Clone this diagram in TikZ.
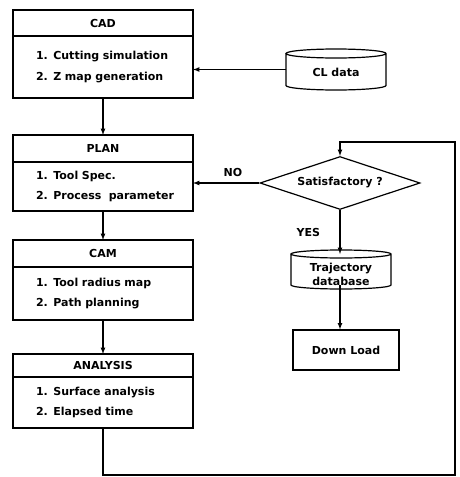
\documentclass[tikz,border=0pt]{standalone}
\usepackage{fontspec}
\setmainfont{DejaVu Sans}
\usepackage{tikz}
\usetikzlibrary{arrows}
\usetikzlibrary{positioning}
\usetikzlibrary{shapes.geometric}

\begin{document}
\begin{tikzpicture}[x=1pt,y=-1pt,line width=1.2pt,>=latex,
  every node/.style={font=\bfseries\fontsize{11}{20.5}\selectfont},
  module/.style={draw,outer sep=0pt,inner sep=0pt,minimum width=180pt},
  modbody/.style={module,text width=134pt,inner xsep=23pt,align=left},
  store/.style={minimum width=100pt,inner sep=0pt,outer sep=0pt},
  decision/.style={draw,diamond,inner sep=0pt,aspect=3,minimum width=160pt,minimum height=53pt}]
 \useasboundingbox (0,0) rectangle (459,477);
 % modules
 \node[module,minimum height=26pt] (cad) at (103,23) {CAD};
 \node[modbody,minimum height=62pt,below=0pt of cad] (cadbody) {1. Cutting simulation\\2. Z map generation};
 \node[module,minimum height=27pt] (plan) at (103,148.5) {PLAN};
 \node[modbody,minimum height=49pt,below=0pt of plan] (planbody) {1. Tool Spec.\\\mbox{2. Process\ \ parameter}};
 \node[module,minimum height=27pt] (cam) at (103,253.5) {CAM};
 \node[modbody,minimum height=53pt,below=0pt of cam] (cambody) {1. Tool radius map\\2. Path planning};
 \node[module,minimum height=23pt] (analysis) at (103,365.5) {ANALYSIS};
 \node[modbody,minimum height=51pt,below=0pt of analysis] (analysisbody) {1. Surface analysis\\2. Elapsed time};
 % data stores
 \node[store,minimum height=32pt] (cl) at (336,69.5) {\raisebox{-7pt}[0pt][0pt]{CL data}};
 \draw (cl.north west) -- (cl.south west)
   arc[start angle=180,end angle=360,x radius=50pt,y radius=4.5pt] -- (cl.north east)
   arc[start angle=0,end angle=360,x radius=50pt,y radius=4.5pt];
 \node[store,minimum height=31pt] (traj) at (341,269.5) {\raisebox{-16pt}[0pt][0pt]{\shortstack{Trajectory\\database}}};
 \draw (traj.north west) -- (traj.south west)
   arc[start angle=180,end angle=360,x radius=50pt,y radius=4pt] -- (traj.north east)
   arc[start angle=0,end angle=360,x radius=50pt,y radius=4pt];
 \node[decision] (sat) at (340,183) {Satisfactory ?};
 \node[draw,minimum width=106pt,minimum height=40pt,inner sep=0pt] (down) at (346,350) {Down Load};
 \coordinate (loopbr) at (455,475);
 \coordinate (looptr) at (455,142);
 % connectors
 \draw[->] (cadbody) -- (plan);
 \draw[->] (planbody) -- (cam);
 \draw[->] (cambody) -- (analysis);
 \draw[->] (cl.west) -- (cl.west -| cadbody.east);
 \draw[->] (sat.west) -- (sat.west -| planbody.east) node[pos=.4,above=2pt] {NO};
 \draw[->] (sat.south) -- (sat.south |- traj.north) node[midway,left=16pt] {YES};
 \draw[->] (traj.south -| sat.south) -- (sat.south |- down.north);
 \draw[->] (analysisbody.south) |- (loopbr) -- (looptr) -| (sat.north);
\end{tikzpicture}
\end{document}
